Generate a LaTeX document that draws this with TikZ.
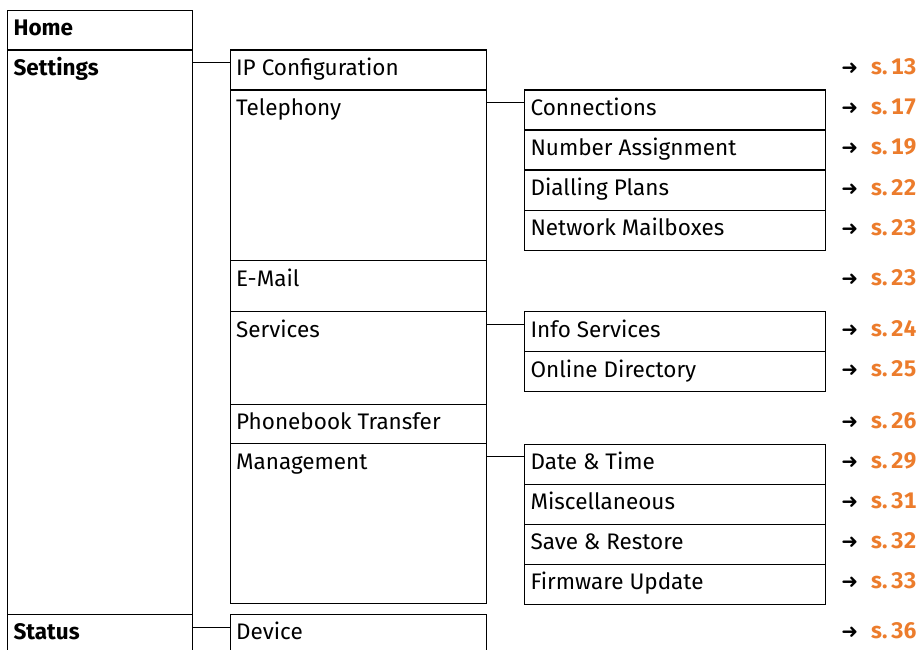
\documentclass[tikz,border=0pt]{standalone}
\usepackage{fontspec}
\setmainfont[Numbers=Monospaced]{Fira Sans}
\newfontfamily\symfont{DejaVu Sans}
\definecolor{reforange}{RGB}{236,124,44}
\newcommand\goto[1]{{\symfont\fontsize{20}{20}\selectfont ➜}\hspace{13pt}\textcolor{reforange}{\bfseries s.\,#1}}
\begin{document}
\begin{tikzpicture}[x=1pt, y=-1pt, line width=1.2pt, font=\fontsize{22.5}{26}\selectfont,
	box/.style={draw, anchor=north west, inner sep=0pt, minimum height=#1},
	c1/.style={minimum width=184.5},
	c2/.style={minimum width=256.5},
	c3/.style={minimum width=301},
	tx/.style={label={[anchor=base west, xshift=6pt, yshift=-26pt, inner sep=0pt]north west:#1}},
	btx/.style={label={[anchor=base west, xshift=6pt, yshift=-26pt, inner sep=0pt, font=\fontsize{22.5}{26}\selectfont\bfseries]north west:#1}},
	ref/.style={anchor=base east, inner sep=0pt}]
	\clip (0,0) rectangle (921,650);

	% first column
	\node[box=39.5, c1, btx=Home] (home) at (7,10) {};
	\node[box=564, c1, btx=Settings] (set) at (7,49.5) {};
	\node[box=50, c1, btx=Status] (stat) at (7,613.5) {};

	% second column
	\node[box=40, c2, tx=IP Configuration] (ip) at (229.5,49.5) {};
	\node[box=170.5, c2, tx=Telephony] (tel) at (229.5,89.5) {};
	\node[box=51, c2, tx=E-Mail] (mail) at (229.5,260) {};
	\node[box=92.5, c2, tx=Services] (srv) at (229.5,311) {};
	\node[box=39.5, c2, tx=Phonebook Transfer] (pbt) at (229.5,403.5) {};
	\node[box=160, c2, tx=Management] (mgmt) at (229.5,443) {};
	\node[box=50, c2, tx=Device] (dev) at (229.5,613.5) {};

	% third column
	\node[box=40, c3, tx=Connections] (con) at (524,89.5) {};
	\node[box=40, c3, tx=Number Assignment] (num) at (524,129.5) {};
	\node[box=40, c3, tx=Dialling Plans] (dial) at (524,169.5) {};
	\node[box=40, c3, tx=Network Mailboxes] (nmb) at (524,209.5) {};
	\node[box=40, c3, tx=Info Services] (info) at (524,311) {};
	\node[box=40, c3, tx=Online Directory] (odir) at (524,351) {};
	\node[box=40, c3, tx=Date \& Time] (date) at (524,443.5) {};
	\node[box=40, c3, tx=Miscellaneous] (misc) at (524,483.5) {};
	\node[box=40, c3, tx=Save \& Restore] (save) at (524,523.5) {};
	\node[box=40, c3, tx=Firmware Update] (fw) at (524,563.5) {};

	% connectors
	\draw ([yshift=-13pt]ip.north west) -- ([yshift=-13pt]ip.north west -| set.east);
	\draw ([yshift=-13pt]con.north west) -- ([yshift=-13pt]con.north west -| tel.east);
	\draw ([yshift=-13.5pt]info.north west) -- ([yshift=-13.5pt]info.north west -| srv.east);
	\draw ([yshift=-13pt]date.north west) -- ([yshift=-13pt]date.north west -| mgmt.east);
	\draw ([yshift=-14pt]dev.north west) -- ([yshift=-14pt]dev.north west -| stat.east);

	% page references
	\node[ref] (r13) at (917,75) {\goto{13}};
	\node[ref] (r17) at (917,115) {\goto{17}};
	\node[ref] (r19) at (917,155) {\goto{19}};
	\node[ref] (r22) at (917,195) {\goto{22}};
	\node[ref] (r23a) at (917,235) {\goto{23}};
	\node[ref] (r23b) at (917,285.5) {\goto{23}};
	\node[ref] (r24) at (917,336.5) {\goto{24}};
	\node[ref] (r25) at (917,376.5) {\goto{25}};
	\node[ref] (r26) at (917,428.5) {\goto{26}};
	\node[ref] (r29) at (917,468.5) {\goto{29}};
	\node[ref] (r31) at (917,508.5) {\goto{31}};
	\node[ref] (r32) at (917,548.5) {\goto{32}};
	\node[ref] (r33) at (917,588.5) {\goto{33}};
	\node[ref] (r36) at (917,638.5) {\goto{36}};
\end{tikzpicture}
\end{document}
